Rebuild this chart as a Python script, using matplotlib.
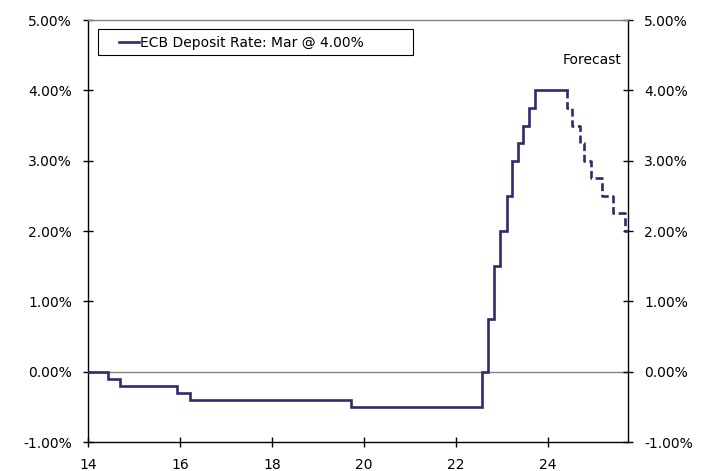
import matplotlib
matplotlib.use("Agg")
import matplotlib.pyplot as plt
from matplotlib.patches import Rectangle

# ---- data ----
hist_x = [14.0, 14.44, 14.69, 15.94, 16.21, 19.72, 22.57, 22.70, 22.84, 22.97,
          23.11, 23.22, 23.36, 23.47, 23.59, 23.72, 24.43]
hist_y = [0.00, -0.10, -0.20, -0.30, -0.40, -0.50, 0.00, 0.75, 1.50, 2.00,
          2.50, 3.00, 3.25, 3.50, 3.75, 4.00, 4.00]
fc_x = [24.43, 24.43, 24.54, 24.70, 24.79, 24.95, 25.18, 25.43, 25.69, 25.75]
fc_y = [4.00, 3.75, 3.50, 3.25, 3.00, 2.75, 2.50, 2.25, 2.00, 2.00]

x_ticks = [14, 16, 18, 20, 22, 24]
x_tick_labels = ["14", "16", "18", "20", "22", "24"]
y_ticks = [-1, 0, 1, 2, 3, 4, 5]
y_tick_labels = ["-1.00%", "0.00%", "1.00%", "2.00%", "3.00%", "4.00%", "5.00%"]
legend_label = "ECB Deposit Rate: Mar @ 4.00%"
forecast_label = "Forecast"

LINE = "#2E2B6E"

plt.rcParams["font.family"] = ["DejaVu Sans"]
plt.rcParams["font.size"] = 10

fig = plt.figure(figsize=(7.16, 4.71), dpi=100)
W, H = 716, 471
L, R, T, B = 88, 628, 20, 442
ax = fig.add_axes([L / W, 1 - B / H, (R - L) / W, (B - T) / H])

ax.axhline(0, color="#808080", lw=1.0, zorder=1)

h_line, = ax.plot(hist_x, hist_y, drawstyle="steps-post", color=LINE, lw=1.9,
                  solid_joinstyle="miter", zorder=3)
ax.plot(fc_x, fc_y, drawstyle="steps-post", color=LINE, lw=1.9,
        linestyle=(0, (3.0, 1.4)), zorder=3)

ax.set_xlim(14, 25.75)
ax.set_ylim(-1, 5)
ax.set_xticks(x_ticks)
ax.set_xticklabels(x_tick_labels)
ax.set_yticks(y_ticks)
ax.set_yticklabels(y_tick_labels)

ax.tick_params(axis="both", direction="inout", length=7, width=1.0,
               colors="black", labelsize=10)
ax.tick_params(axis="y", left=True, right=True, labelleft=True, labelright=True,
               pad=8)
ax.tick_params(axis="x", pad=8)

for s in ["left", "right", "bottom"]:
    ax.spines[s].set_color("black")
    ax.spines[s].set_linewidth(1.0)
ax.spines["top"].set_color("#808080")
ax.spines["top"].set_linewidth(1.0)

# legend frame and content
def ax_x(px):
    return (px - L) / (R - L)

def ax_y(py):
    return 1 - (py - T) / (B - T)

frame = Rectangle((ax_x(98), ax_y(55)), (413 - 98) / (R - L), (55 - 29) / (B - T),
                  transform=ax.transAxes, facecolor="white", edgecolor="black",
                  lw=0.8, zorder=4)
ax.add_patch(frame)
leg = ax.legend([h_line], [legend_label], loc="center left",
                bbox_to_anchor=(ax_x(119), ax_y(42.5)), frameon=False,
                borderpad=0, borderaxespad=0, handlelength=1.45,
                handletextpad=0.05, fontsize=10)
leg.set_zorder(5)

ax.text(ax_x(622), ax_y(60), forecast_label, ha="right", va="center",
        fontsize=10, color="black", transform=ax.transAxes)

fig.savefig("out.png", dpi=100)
